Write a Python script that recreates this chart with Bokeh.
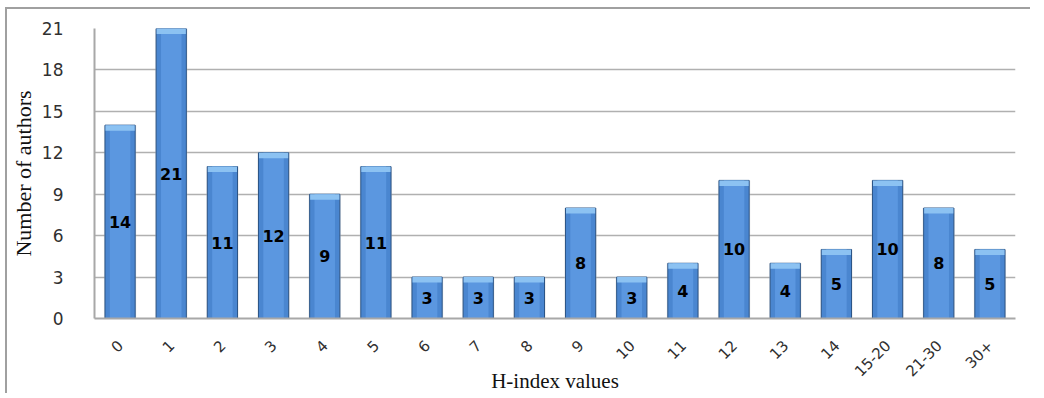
import math
from bokeh.plotting import figure
from bokeh.models import Range1d, FixedTicker, ColumnDataSource, LabelSet
from bokeh.core.properties import value
from bokeh.embed import file_html
from bokeh.resources import INLINE

categories = ["0", "1", "2", "3", "4", "5", "6", "7", "8", "9", "10", "11", "12",
              "13", "14", "15-20", "21-30", "30+"]
authors = [14, 21, 11, 12, 9, 11, 3, 3, 3, 8, 3, 4, 10, 4, 5, 10, 8, 5]
y_ticks = [0, 3, 6, 9, 12, 15, 18, 21]

src = ColumnDataSource(data=dict(
    cat=categories,
    val=authors,
    mid=[v / 2 for v in authors],
    txt=[str(v) for v in authors],
    cap=[v - 0.4 for v in authors],
))

p = figure(x_range=categories, y_range=Range1d(0, 21),
           width=1025, height=386, output_backend="svg", toolbar_location=None,
           min_border_left=84, min_border_right=17, min_border_top=19, min_border_bottom=76)
p.styles = {"border-left": "2px solid #a0a0a0", "border-top": "2px solid #a0a0a0",
            "margin-left": "5px", "margin-top": "7px"}
p.outline_line_color = None
p.background_fill_color = "white"

# shadow
p.vbar(x="cat", top="val", width=0.63, source=src, fill_color="#c8c8c8",
       line_color=None, fill_alpha=0.5)
# bar body
p.vbar(x="cat", top="val", width=0.59, source=src, fill_color="#4a86d0",
       line_color="#2c5587", line_width=1)
p.vbar(x="cat", top="val", width=0.40, source=src, fill_color="#5b97e0",
       line_color=None)
# top cap
p.vbar(x="cat", top="val", bottom="cap", width=0.57, source=src,
       fill_color="#8cc2f2", line_color=None)

labels = LabelSet(x="cat", y="mid", text="txt", source=src,
                  text_align="center", text_baseline="middle",
                  text_font=value("DejaVu Sans"), text_font_style="bold",
                  text_font_size="16px", text_color="black")
p.add_layout(labels)

p.xgrid.grid_line_color = None
p.ygrid.grid_line_color = "#b0b0b0"
p.ygrid.grid_line_width = 1.5
p.yaxis.ticker = FixedTicker(ticks=y_ticks)

for ax in (p.xaxis, p.yaxis):
    ax.axis_line_color = "#a8a8a8"
    ax.axis_line_width = 2
    ax.major_tick_line_color = None
    ax.minor_tick_line_color = None
    ax.major_label_text_font = "DejaVu Sans"
    ax.major_label_text_color = "#303030"
    ax.axis_label_text_font = "Liberation Serif"
    ax.axis_label_text_font_style = "normal"
    ax.axis_label_text_color = "#111111"

p.yaxis.major_label_text_font_size = "17px"
p.xaxis.major_label_text_font_size = "15px"
p.yaxis.major_label_standoff = 25
p.yaxis.axis_label = "Number of authors"
p.yaxis.axis_label_text_font_size = "22px"
p.yaxis.axis_label_standoff = 3
p.xaxis.major_label_orientation = math.pi / 4
p.xaxis.major_label_standoff = 18
p.xaxis.axis_label = "H-index values"
p.xaxis.axis_label_text_font_size = "21px"
p.xaxis.axis_label_standoff = -16

open("out.html", "w").write(file_html(p, INLINE))
